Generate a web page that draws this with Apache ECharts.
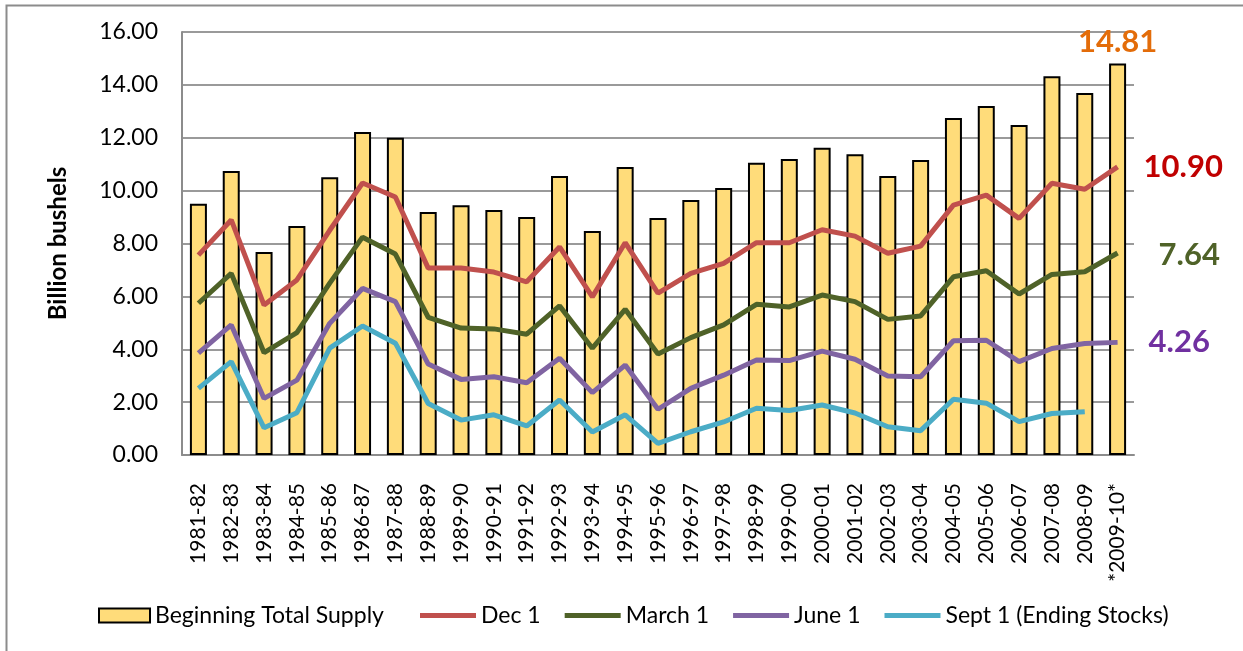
<!DOCTYPE html>
<html style="height: 100%">
<head>
<meta charset="utf-8">
<title>Supply and stocks</title>
<script src="https://cdn.jsdelivr.net/npm/echarts@6/dist/echarts.min.js"></script>
</head>
<body style="height: 100%; margin: 0; background: #fff">
<div id="container" style="width: 1243px; height: 651px"></div>
<script type="text/javascript">
// marketing years
let years = ['1981-82','1982-83','1983-84','1984-85','1985-86','1986-87','1987-88','1988-89',
  '1989-90','1990-91','1991-92','1992-93','1993-94','1994-95','1995-96','1996-97','1997-98',
  '1998-99','1999-00','2000-01','2001-02','2002-03','2003-04','2004-05','2005-06','2006-07',
  '2007-08','2008-09','*2009-10*'];

// billion bushels
let totalSupply = [9.50,10.74,7.68,8.66,10.51,12.22,12.00,9.19,9.45,9.27,9.00,10.55,8.47,10.89,
  8.96,9.65,10.10,11.05,11.20,11.62,11.38,10.55,11.16,12.75,13.20,12.48,14.33,13.69,14.81];
let dec1 = [7.56,8.89,5.67,6.62,8.50,10.29,9.76,7.07,7.07,6.92,6.55,7.87,5.98,8.03,6.12,6.87,
  7.25,8.03,8.03,8.52,8.28,7.63,7.90,9.45,9.83,8.95,10.28,10.05,10.90];
let march1 = [5.74,6.87,3.87,4.63,6.50,8.24,7.60,5.21,4.80,4.77,4.57,5.64,4.04,5.51,3.82,4.44,
  4.92,5.70,5.60,6.05,5.80,5.13,5.26,6.74,6.97,6.09,6.83,6.93,7.64];
let june1 = [3.85,4.92,2.14,2.83,4.98,6.30,5.80,3.44,2.86,2.96,2.73,3.66,2.36,3.40,1.73,2.52,
  3.02,3.59,3.57,3.93,3.62,2.99,2.96,4.32,4.34,3.53,4.03,4.22,4.26];
let sept1 = [2.52,3.53,1.03,1.60,4.04,4.88,4.23,1.95,1.32,1.52,1.10,2.08,0.87,1.52,0.44,0.88,
  1.25,1.77,1.68,1.89,1.59,1.07,0.92,2.11,1.96,1.26,1.57,1.64,null];

let font = 'Lato, "Open Sans", sans-serif';

function lineSeries(name, values, color, labelColor, offset) {
  return {
    name: name, type: 'line', data: values,
    showSymbol: false, symbol: 'none',
    lineStyle: { color: color, width: 5 }, itemStyle: { color: color },
    endLabel: {
      show: !!labelColor, offset: offset || [0, 0],
      formatter: function (p) { return p.value.toFixed(2); },
      color: labelColor, fontSize: 31, fontWeight: 'bold', fontFamily: font
    },
    z: 3
  };
}

let legendText = { fontSize: 23, color: '#000', fontFamily: font };

let chart = echarts.init(document.getElementById('container'));

chart.setOption({
  animation: false,
  textStyle: { fontFamily: font },
  graphic: [{
    type: 'rect', shape: { x: 6.5, y: 5.5, width: 1260, height: 680 },
    style: { fill: 'none', stroke: '#8c8c8c', lineWidth: 2 }, silent: true
  }],
  grid: { left: 182, top: 32, right: 109, bottom: 196 },
  legend: [
    {
      left: 93, top: 599, itemWidth: 51, itemHeight: 14, itemGap: 24,
      textStyle: legendText, data: [{ name: 'Beginning Total Supply', icon: 'rect' }]
    },
    {
      left: 415, top: 599, itemWidth: 56, itemHeight: 5, itemGap: 24, icon: 'rect',
      textStyle: legendText,
      data: ['Dec 1', 'March 1', 'June 1', 'Sept 1 (Ending Stocks)']
    }
  ],
  xAxis: {
    type: 'category', data: years,
    axisLine: { lineStyle: { color: '#8c8c8c', width: 2 } },
    axisTick: { show: false },
    axisLabel: { rotate: 90, interval: 0, fontSize: 21, color: '#000', margin: 28, fontFamily: font }
  },
  yAxis: {
    type: 'value', min: 0, max: 16, interval: 2,
    name: 'Billion bushels', nameLocation: 'middle', nameGap: 112,
    nameTextStyle: { fontSize: 24, fontWeight: 'bold', color: '#000', fontFamily: font },
    axisLine: { show: true, lineStyle: { color: '#8c8c8c', width: 2 } },
    axisTick: { show: false },
    splitLine: { lineStyle: { color: '#9a9a9a', width: 2 } },
    axisLabel: {
      fontSize: 23, color: '#000', margin: 24, fontFamily: font,
      formatter: function (v) { return v.toFixed(2); }
    }
  },
  series: [
    {
      name: 'Beginning Total Supply', type: 'bar', barWidth: 17,
      data: totalSupply.map(function (v, i) {
        if (i !== totalSupply.length - 1) return v;
        return {
          value: v,
          label: {
            show: true, position: 'top', distance: 6,
            formatter: function (p) { return p.value.toFixed(2); },
            color: '#e36c09', fontSize: 31, fontWeight: 'bold', fontFamily: font
          }
        };
      }),
      itemStyle: { color: '#ffdc7a', borderColor: '#000', borderWidth: 2 },
      z: 2
    },
    lineSeries('Dec 1', dec1, '#c0504d', '#c00000', [18, 0]),
    lineSeries('March 1', march1, '#4f6228', '#4f6228', [33, 2]),
    lineSeries('June 1', june1, '#8064a2', '#7030a0', [23, 0]),
    lineSeries('Sept 1 (Ending Stocks)', sept1, '#4bacc6', null)
  ]
});
</script>
</body>
</html>
